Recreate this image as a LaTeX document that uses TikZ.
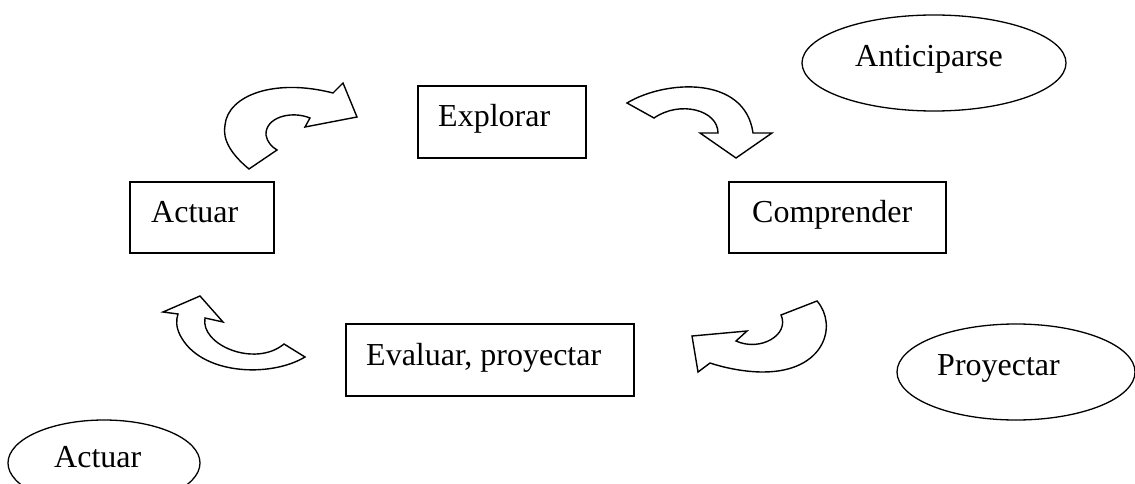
\documentclass[tikz,border=0pt]{standalone}
\usepackage{fontspec}
\setmainfont{Liberation Serif}
\usetikzlibrary{shapes.geometric}

\tikzset{
  stage/.style={draw, line width=1.4pt, rectangle, inner sep=0pt},
  oval/.style={draw, line width=1.3pt, ellipse, inner sep=0pt},
  lbl/.style={anchor=base west, inner sep=0pt, font=\fontsize{32}{38}\selectfont},
  blockarrow/.style={draw, line width=1.4pt, line join=miter, fill=white}
}

\begin{document}
\begin{tikzpicture}[x=1pt, y=-1pt]
\useasboundingbox (0,0) rectangle (1135,484);
\clip (0,0) rectangle (1135,484);

% stage boxes
\node[stage, minimum width=168pt, minimum height=72pt] (explorar) at (502,122) {};
\node[stage, minimum width=217pt, minimum height=71pt] (comprender) at (837.5,217.5) {};
\node[stage, minimum width=144pt, minimum height=71pt] (actuar) at (202,217.5) {};
\node[stage, minimum width=288pt, minimum height=72pt] (evaluar) at (490,360) {};

\node[lbl] (texplorar) at (438,127) {Explorar};
\node[lbl] (tcomprender) at (752,222) {Comprender};
\node[lbl] (tactuar) at (151,222) {Actuar};
\node[lbl] (tevaluar) at (366,365) {Evaluar, proyectar};

% side ovals
\node[oval, minimum width=264pt, minimum height=96pt] (anticiparse) at (934,63) {};
\node[oval, minimum width=238pt, minimum height=96pt] (proyectar) at (1016,372) {};
\node[oval, minimum width=192pt, minimum height=86pt] (actuar2) at (104,463) {};

\node[lbl] (tanticiparse) at (855,67) {Anticiparse};
\node[lbl] (tproyectar) at (937,375) {Proyectar};
\node[lbl] (tactuar2) at (54,467) {Actuar};

% curved block arrows of the cycle
% Actuar -> Explorar
\path[blockarrow] (249,169) .. controls (232,155) and (222,140) .. (225,125)
  .. controls (228,95) and (275,78) .. (333,93)
  -- (343,83) -- (357,117) -- (305,127) -- (310,118)
  .. controls (290,110) and (265,118) .. (266,135)
  .. controls (267,142) and (272,147) .. (277,150) -- cycle;

% Explorar -> Comprender
\path[blockarrow] (627,103) .. controls (665,80) and (745,75) .. (753,133)
  -- (772,133) -- (736,158) -- (700,133) -- (718,133)
  .. controls (718,110) and (680,100) .. (654,118) -- cycle;

% Comprender -> Evaluar
\path[blockarrow] (817,301) .. controls (838,325) and (825,372) .. (763,372)
  .. controls (745,372) and (725,368) .. (710,363)
  -- (698,372) -- (692,336) -- (747,331) -- (736,341)
  .. controls (760,352) and (790,335) .. (781,315) -- cycle;

% Evaluar -> Actuar
\path[blockarrow] (305,357) .. controls (270,378) and (200,375) .. (180,335)
  .. controls (176,327) and (176,320) .. (178,314)
  -- (163,312) -- (200,296) -- (223,322) -- (205,318)
  .. controls (200,345) and (255,368) .. (284,344) -- cycle;
\end{tikzpicture}
\end{document}
